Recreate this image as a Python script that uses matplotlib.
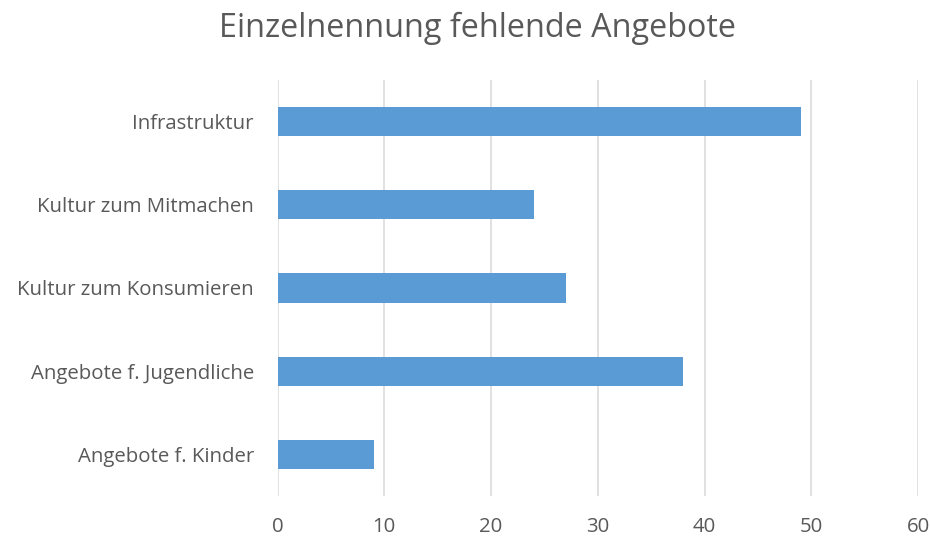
import matplotlib
matplotlib.use('Agg')
from matplotlib import pyplot as plt

categories = ['Angebote f. Kinder', 'Angebote f. Jugendliche', 'Kultur zum Konsumieren',
              'Kultur zum Mitmachen', 'Infrastruktur']
values = [9, 38, 27, 24, 49]
xticks = [0, 10, 20, 30, 40, 50, 60]
title = 'Einzelnennung fehlende Angebote'

txt = '#595959'
plt.rcParams['font.family'] = ['Open Sans', 'DejaVu Sans']

fig = plt.figure(figsize=(9.3, 5.37), dpi=100)
ax = fig.add_axes([0.2984, 0.0764, 0.6888, 0.7746])

ax.barh(range(len(categories)), values, height=0.35, color='#5B9BD5', zorder=3)
ax.set_ylim(-0.5, len(categories) - 0.5)
ax.set_xlim(0, 60)
ax.set_xticks(xticks)
ax.set_yticks(range(len(categories)))
ax.set_yticklabels(categories)
ax.grid(axis='x', color='#D9D9D9', linewidth=1.1, zorder=0)
for s in ax.spines.values():
    s.set_visible(False)
ax.tick_params(axis='both', length=0, labelsize=14.7, colors=txt)
ax.tick_params(axis='x', pad=15)
ax.tick_params(axis='y', pad=17)

fig.text(0.513, 0.948, title, ha='center', va='center', fontsize=23.3, color=txt)

fig.savefig('out.png', dpi=100)
